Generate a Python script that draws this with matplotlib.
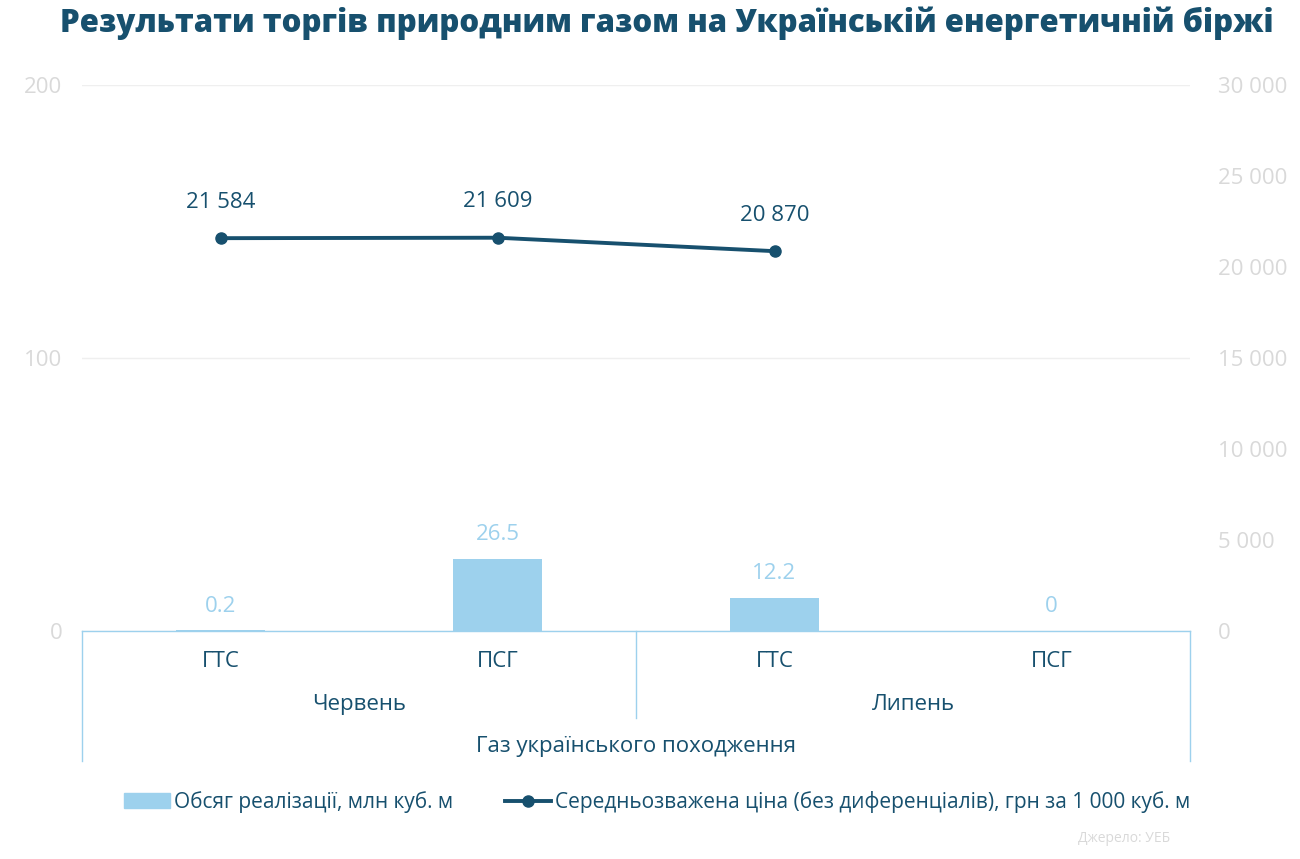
import numpy as np
import matplotlib.pyplot as plt
from matplotlib.lines import Line2D
from matplotlib.patches import Patch

plt.rcParams['font.family'] = ['Open Sans', 'DejaVu Sans']

# Data
points = ['ГТС', 'ПСГ', 'ГТС', 'ПСГ']
months = ['Червень', 'Липень']
group = 'Газ українського походження'
volume = [0.2, 26.5, 12.2, 0]                 # млн куб. м
price = [21584, 21609, 20870]                 # грн за 1 000 куб. м
volume_labels = ['0.2', '26.5', '12.2', '0']
price_labels = ['21 584', '21 609', '20 870']

dark = '#17506e'
bar_c = '#9dd1ed'
tick_c = '#d9d9d9'
fs = 16

fig = plt.figure(figsize=(13, 8.59), dpi=100)
ax = fig.add_axes([82/1300, 1-631/859, (1190-82)/1300, (631-85)/859])
ax2 = ax.twinx()

x = np.arange(len(points))
ax.bar(x, volume, width=0.32, color=bar_c, zorder=2)
for xi, v, lab in zip(x, volume, volume_labels):
    ax.text(xi, v + 5, lab, ha='center', va='bottom', color=bar_c, fontsize=fs)

ax.set_xlim(-0.5, 3.5)
ax.set_ylim(0, 200)
ax.set_yticks([0, 100, 200])
ax.grid(axis='y', color='#efefef', lw=1, zorder=0)
ax.set_xticks([])
ax.tick_params(axis='y', length=0, labelsize=fs, labelcolor=tick_c, pad=14)

ax2.plot(x[:len(price)], price, color=dark, lw=2.8, marker='o', ms=8, zorder=3)
for xi, p, lab in zip(x, price, price_labels):
    ax2.text(xi, p + 1400, lab, ha='center', va='bottom', color=dark, fontsize=fs)
ax2.set_ylim(0, 30000)
ax2.set_yticks(np.arange(0, 30001, 5000))
ax2.set_yticklabels([f'{v:,}'.replace(',', ' ') for v in range(0, 30001, 5000)])
ax2.tick_params(axis='y', length=0, labelsize=fs, labelcolor=tick_c, pad=20)

for a in (ax, ax2):
    for s in a.spines.values():
        s.set_visible(False)
ax.spines['bottom'].set_visible(True)
ax.spines['bottom'].set_color(bar_c)
ax.spines['bottom'].set_linewidth(1)

# multi-level category axis
trans = ax.get_xaxis_transform()
for xi, lab in zip(x, points):
    ax.text(xi, -0.055, lab, transform=trans, ha='center', va='center', color=dark, fontsize=fs)
for i, lab in enumerate(months):
    ax.text(2 * i + 0.5, -0.134, lab, transform=trans, ha='center', va='center', color=dark, fontsize=fs)
ax.text(1.5, -0.212, group, transform=trans, ha='center', va='center', color=dark, fontsize=fs)
sep = dict(transform=trans, color=bar_c, lw=1, clip_on=False)
ax.add_line(Line2D([-0.5, -0.5], [0, -0.238], **sep))
ax.add_line(Line2D([3.5, 3.5], [0, -0.238], **sep))
ax.add_line(Line2D([1.5, 1.5], [0, -0.16], **sep))

fig.text(667/1300, 1-23/859, 'Результати торгів природним газом на Українській енергетичній біржі',
         ha='center', va='center', color=dark, fontsize=22.5, fontweight='heavy')

handles = [Patch(color=bar_c), Line2D([], [], color=dark, lw=2.8, marker='o', ms=8)]
labels = ['Обсяг реалізації, млн куб. м',
          'Середньозважена ціна (без диференціалів), грн за 1 000 куб. м']
fig.legend(handles, labels, loc='center', bbox_to_anchor=(657/1300, 1-802/859), ncol=2,
           frameon=False, fontsize=15, labelcolor=dark, handlelength=2.2,
           handletextpad=0.2, columnspacing=2.5)

fig.text(1170/1300, 1-838/859, 'Джерело: УЕБ', ha='right', va='center', color=tick_c, fontsize=10)

fig.savefig('out.png', dpi=100)
